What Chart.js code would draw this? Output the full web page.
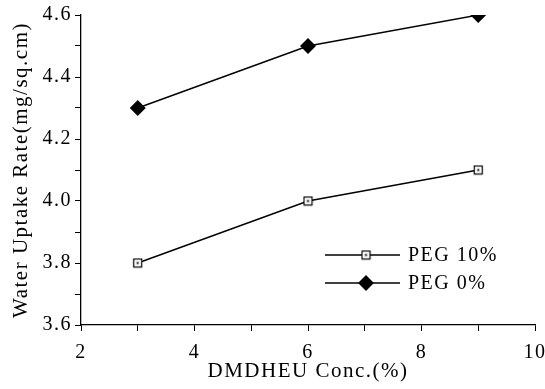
<!DOCTYPE html>
<html>
<head>
<meta charset="utf-8">
<script src="https://cdn.jsdelivr.net/npm/chart.js@4/dist/chart.umd.min.js"></script>
<style>
  html, body { margin:0; padding:0; background:#fff; }
  #wrap { width:545px; height:389px; }
</style>
</head>
<body>
<div id="wrap"><canvas id="chartUptake"></canvas></div>
<script>
// data
const conc = [3, 6, 9];
const peg10 = [3.8, 4.0, 4.1];
const peg0 = [4.3, 4.5, 4.6];
const seriesNames = ["PEG 10%", "PEG 0%"];

const serif = "'Liberation Serif', 'DejaVu Serif', serif";
const spacing = "1.5px";

// open square with a dot in the middle
function squareDot() {
  const c = document.createElement("canvas");
  c.width = 11; c.height = 11;
  const g = c.getContext("2d");
  g.fillStyle = "#fff";
  g.fillRect(1, 1, 9, 9);
  g.strokeStyle = "#000";
  g.lineWidth = 1.2;
  g.strokeRect(1.5, 1.5, 8, 8);
  g.fillStyle = "#000";
  g.fillRect(4.5, 4.5, 2, 2);
  return c;
}
const sqMark = squareDot();

// the old typeset text is widely spaced
const spaced = {
  id: "spaced",
  beforeUpdate(chart) { chart.ctx.letterSpacing = spacing; },
  beforeLayout(chart) { chart.ctx.letterSpacing = spacing; },
  beforeDraw(chart) { chart.ctx.letterSpacing = spacing; }
};

// legend: line with marker, then label (sits inside the plot)
const lineLegend = {
  id: "lineLegend",
  afterDraw(chart) {
    const ctx = chart.ctx;
    const rows = [255, 283];
    chart.data.datasets.forEach((ds, i) => {
      const y = rows[i];
      ctx.save();
      ctx.strokeStyle = "#000";
      ctx.lineWidth = 1.3;
      ctx.beginPath();
      ctx.moveTo(325, y);
      ctx.lineTo(400, y);
      ctx.stroke();
      Chart.helpers.drawPoint(ctx, {
        pointStyle: ds.pointStyle, radius: ds.pointRadius,
        borderWidth: 1, rotation: 0
      }, 366, y);
      if (ds.pointStyle === "rectRot") { ctx.fillStyle = "#000"; ctx.fill(); }
      ctx.fillStyle = "#000";
      ctx.letterSpacing = spacing;
      ctx.font = "20px " + serif;
      ctx.textBaseline = "middle";
      ctx.fillText(ds.label, 408, y + 1);
      ctx.restore();
    });
  }
};

new Chart(chartUptake, {
  type: "line",
  data: {
    datasets: [
      { label: seriesNames[0], data: conc.map((x, i) => ({ x, y: peg10[i] })),
        borderColor: "#000", borderWidth: 1.4, pointStyle: sqMark, pointRadius: 5 },
      { label: seriesNames[1], data: conc.map((x, i) => ({ x, y: peg0[i] })),
        borderColor: "#000", backgroundColor: "#000", borderWidth: 1.4,
        pointStyle: "rectRot", pointRadius: 7 }
    ]
  },
  options: {
    responsive: true,
    maintainAspectRatio: false,
    animation: false,
    layout: { padding: { top: 15, right: 0, left: 0, bottom: 4 } },
    plugins: { legend: { display: false }, tooltip: { enabled: false } },
    scales: {
      x: {
        type: "linear", min: 2, max: 10,
        afterFit: s => { s.height = 60; s.paddingRight = 10; s.paddingLeft = 0; },
        border: { color: "#000", width: 1.3 },
        grid: { drawOnChartArea: false, color: "#000", tickLength: 6 },
        ticks: {
          stepSize: 1, color: "#000", padding: 10,
          font: { family: serif, size: 20 },
          callback: v => v % 2 === 0 ? String(v) : ""
        },
        title: { display: true, text: "DMDHEU Conc.(%)", color: "#000",
                 font: { family: serif, size: 21 }, padding: { top: 0, bottom: 1 } }
      },
      y: {
        min: 3.6, max: 4.6,
        afterFit: s => { s.width = 81; },
        border: { color: "#000", width: 1.3 },
        grid: { drawOnChartArea: false, color: "#000", tickLength: 6 },
        ticks: {
          stepSize: 0.1, color: "#000", padding: 3,
          font: { family: serif, size: 20 },
          callback: v => Math.round(v * 10) % 2 === 0 ? v.toFixed(1) : ""
        },
        title: { display: true, text: "Water Uptake Rate(mg/sq.cm)", color: "#000",
                 font: { family: serif, size: 21 }, padding: { top: 9, bottom: 0 } }
      }
    }
  },
  plugins: [spaced, lineLegend]
});
</script>
</body>
</html>
